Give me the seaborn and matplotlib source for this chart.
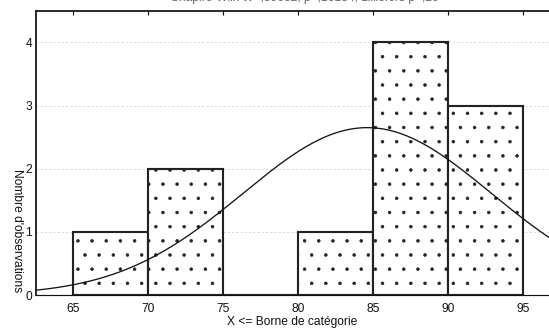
import numpy as np
import pandas as pd
import seaborn as sns
import matplotlib.pyplot as plt

# histogram data (upper bound of each class -> count)
bin_edges = [65, 70, 75, 80, 85, 90, 95]
counts = [1, 2, 0, 1, 4, 3]
# fitted normal curve parameters
fit_mean = 84.6
fit_sd = 8.28

centers = [(a + b) / 2 for a, b in zip(bin_edges[:-1], bin_edges[1:])]
df = pd.DataFrame({'x': centers, 'n': counts})
n_obs = sum(counts)
width = bin_edges[1] - bin_edges[0]

sns.set_style('white')
plt.rcParams['font.family'] = ['Liberation Sans', 'DejaVu Sans']
plt.rcParams['hatch.color'] = 'black'
plt.rcParams['hatch.linewidth'] = 0.5

DPI = 85
fig = plt.figure(figsize=(549 / DPI, 329 / DPI), dpi=DPI)
ax = fig.add_axes([0.065, 0.1033, 0.935, 0.864])

for y in [1, 2, 3, 4]:
    ax.axhline(y, color='#cccccc', lw=0.6, ls=(0, (3, 3)), zorder=0)

sns.histplot(data=df, x='x', weights='n', bins=bin_edges, ax=ax,
             color='white', edgecolor='#222222', linewidth=1.8,
             hatch='.', alpha=1, zorder=2)

xs = np.linspace(60, 100, 400)
ys = n_obs * width * np.exp(-0.5 * ((xs - fit_mean) / fit_sd) ** 2) / (fit_sd * np.sqrt(2 * np.pi))
sns.lineplot(x=xs, y=ys, ax=ax, color='#111111', lw=1.1, zorder=3)

ax.set_xlim(62.53, 96.7)
ax.set_ylim(0, 4.5)
ax.set_xticks(bin_edges)
ax.set_yticks([0, 1, 2, 3, 4])
ax.tick_params(axis='x', direction='in', top=True, length=3, width=1,
               pad=7, labelsize=10.2, colors='#111111')
ax.tick_params(axis='y', length=0, pad=3, labelsize=10.2, colors='#111111')
ax.set_ylabel('')
ax.set_xlabel('X <= Borne de catégorie', fontsize=10.2, labelpad=1, color='#111111')

for s in ['top', 'left']:
    ax.spines[s].set_linewidth(1.6)
    ax.spines[s].set_color('#222222')
ax.spines['bottom'].set_linewidth(1.0)
ax.spines['bottom'].set_color('#111111')
ax.spines['right'].set_visible(False)

fig.text(0.031, 1 - 231 / 329, "Nombre d'observations", rotation=270,
         ha='center', va='center', fontsize=10.2, color='#111111')
# title sits mostly above the top edge, as in the reference
fig.text(305 / 549, 1 - 1.0 / 329, 'Shapiro-Wilk W=,89632, p=,16134; Lilliefors p>,20',
         ha='center', va='baseline', fontsize=10.2, color='#666666')

fig.savefig('out.png', dpi=DPI)
